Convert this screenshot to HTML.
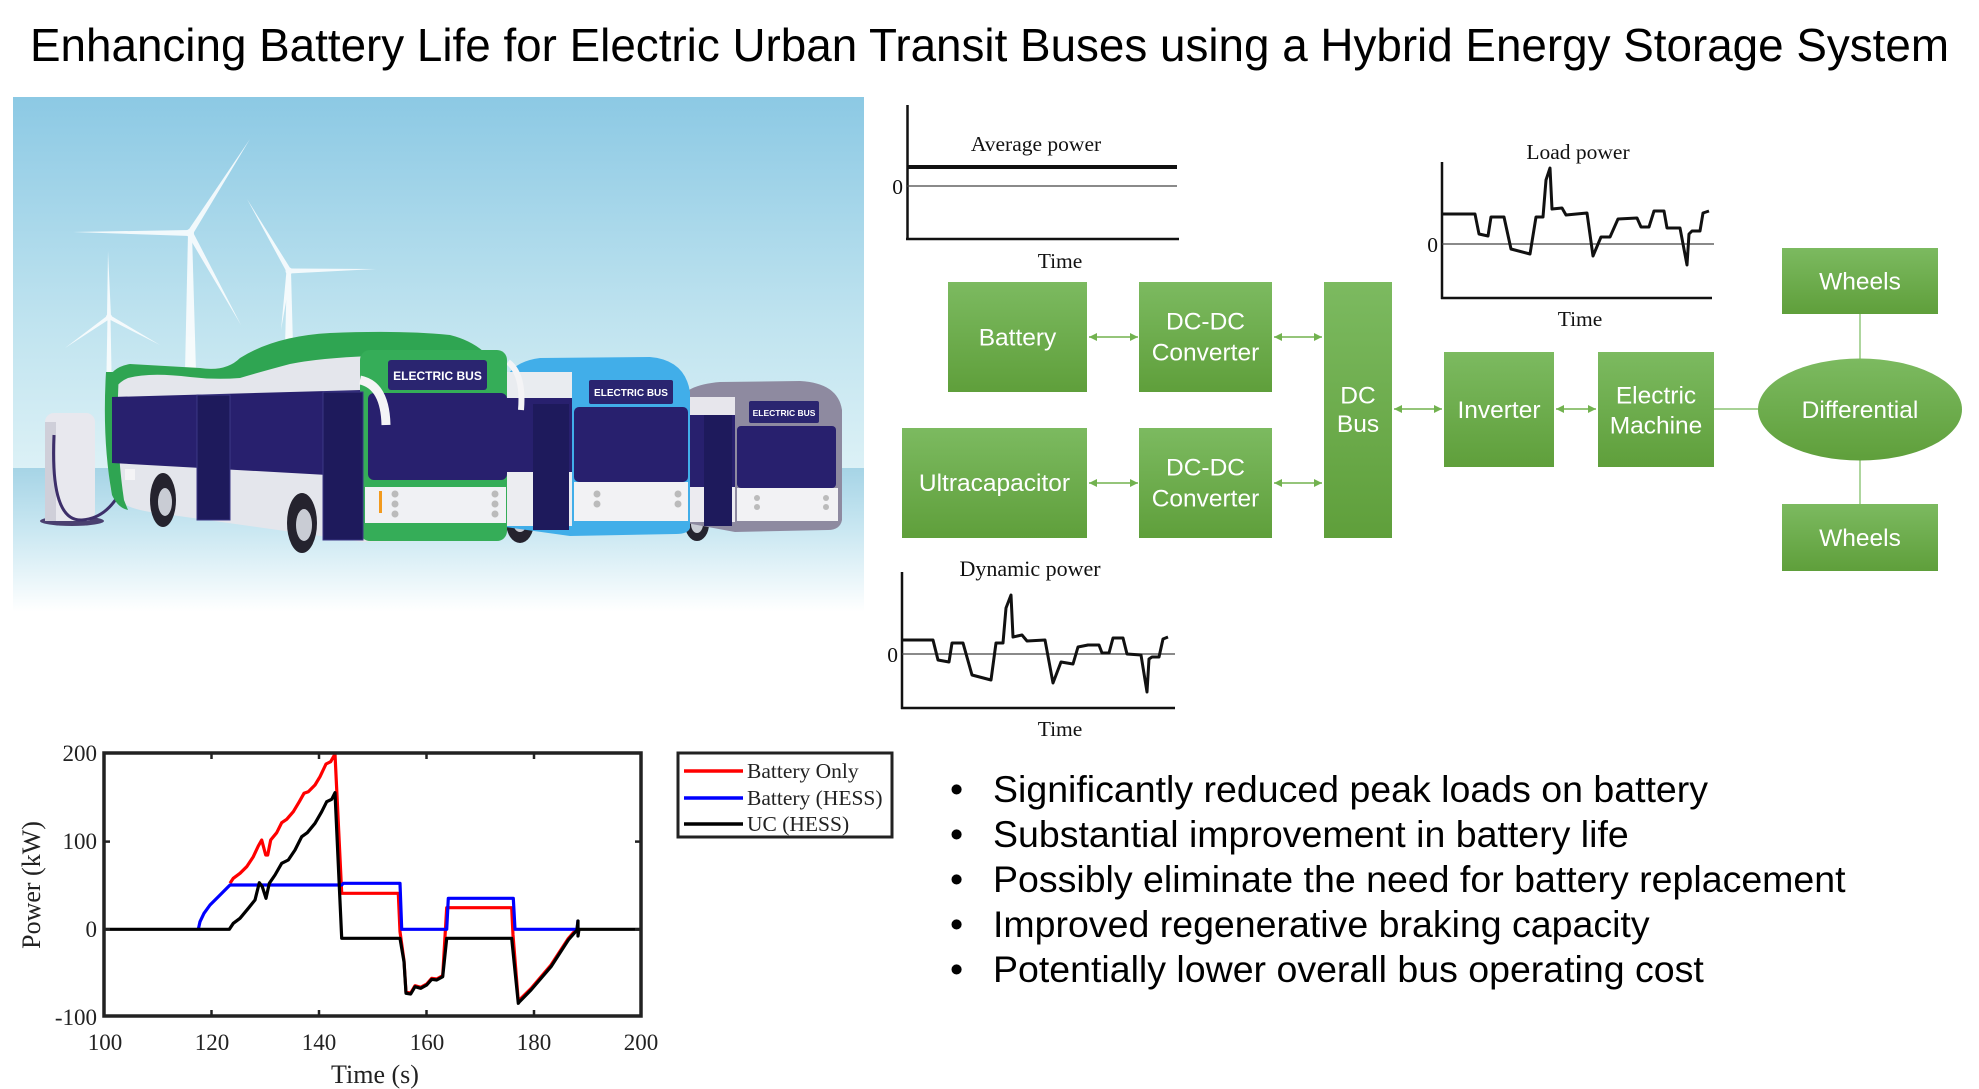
<!DOCTYPE html>
<html><head><meta charset="utf-8"><style>
html,body{margin:0;padding:0;background:#fff;}
svg{display:block;}
</style></head><body>
<svg width="1979" height="1089" viewBox="0 0 1979 1089" xmlns="http://www.w3.org/2000/svg">
<defs>
<linearGradient id="gb" x1="0" y1="0" x2="0" y2="1"><stop offset="0" stop-color="#7cba60"/><stop offset="1" stop-color="#5f9f3b"/></linearGradient>
<linearGradient id="sky" x1="0" y1="0" x2="0" y2="1"><stop offset="0" stop-color="#8cc9e4"/><stop offset="0.6" stop-color="#bfe3ef"/><stop offset="1" stop-color="#dcf1f6"/></linearGradient>
<linearGradient id="gnd" x1="0" y1="0" x2="0" y2="1"><stop offset="0" stop-color="#a6d4e6"/><stop offset="0.45" stop-color="#cbe8f2"/><stop offset="1" stop-color="#ffffff"/></linearGradient>
<marker id="ah" markerUnits="userSpaceOnUse" markerWidth="9" markerHeight="9" refX="8" refY="4.5" orient="auto-start-reverse"><path d="M0,0.5 L8,4.5 L0,8.5 z" fill="#72b24f"/></marker>
<clipPath id="pc"><rect x="104" y="753" width="537" height="263"/></clipPath>
</defs>

<!-- Title -->
<text x="30" y="61" font-family="Liberation Sans, Arial, sans-serif" font-size="46" fill="#000" textLength="1919" lengthAdjust="spacingAndGlyphs">Enhancing Battery Life for Electric Urban Transit Buses using a Hybrid Energy Storage System</text>

<!-- Illustration -->
<rect x="13" y="97" width="851" height="372" fill="url(#sky)"/>
<rect x="13" y="468" width="851" height="144" fill="url(#gnd)"/>
<g fill="#ffffff" opacity="0.85">
<polygon points="188,233 192,233 196,372 185,372"/>
<polygon points="192.5,234.6 250,139 187.5,231.4"/>
<polygon points="190,236 73,232 190,230"/>
<polygon points="187.4,234.5 241,325 192.6,231.5"/>
<circle cx="190" cy="233" r="4"/>
<polygon points="287,271 291,271 294,385 284,385"/>
<polygon points="291.2,269.7 247,199 286.8,272.3"/>
<polygon points="289,273.5 376,269 289,268.5"/>
<polygon points="286.5,270.7 281,330 291.5,271.3"/>
<circle cx="289" cy="271" r="3.5"/>
<polygon points="107.5,317 110.5,317 112,400 106,400"/>
<polygon points="111,317 108,251 107,317"/>
<polygon points="107.8,315.4 65,348 110.2,318.6"/>
<polygon points="108,318.8 160,345 110,315.2"/>
<circle cx="109" cy="317" r="3"/>
</g>

<!-- Charger -->
<ellipse cx="72" cy="521" rx="32" ry="5" fill="#4a4070"/>
<rect x="45" y="413" width="50" height="108" rx="9" fill="#e8e8ee"/>
<rect x="45" y="422" width="11" height="99" fill="#cfcfd9"/>
<path d="M54,435 Q50,522 82,520 Q112,518 127,477" stroke="#3d2f6a" stroke-width="3" fill="none"/>

<!-- Bus 3 (grey) -->
<g>
<ellipse cx="697" cy="524" rx="12" ry="17" fill="#25232e"/><ellipse cx="697" cy="524" rx="6" ry="9" fill="#c9ccd4"/>
<path d="M679,402 Q684,385 720,382 L800,381 Q838,383 842,410 L842,520 Q840,530 828,530 L735,532 L681,522 Z" fill="#8e8aa0"/>
<rect x="681" y="397" width="54" height="18" fill="#e7e6ec"/>
<rect x="681" y="415" width="54" height="72" fill="#28206e"/>
<rect x="681" y="487" width="54" height="35" fill="#ecebf0"/>
<rect x="704" y="415" width="28" height="111" fill="#1e1a5c"/>
<rect x="749" y="401" width="70" height="22" rx="2" fill="#2a2570"/>
<text x="784" y="416" font-family="Liberation Sans, sans-serif" font-size="8.5" font-weight="bold" fill="#fff" text-anchor="middle">ELECTRIC BUS</text>
<rect x="737" y="426" width="99" height="62" rx="4" fill="#28206e"/>
<rect x="737" y="488" width="101" height="33" fill="#f2f2f4"/>
<circle cx="757" cy="498" r="3" fill="#bbb"/><circle cx="757" cy="507" r="3" fill="#bbb"/><circle cx="826" cy="498" r="3" fill="#bbb"/><circle cx="826" cy="507" r="3" fill="#bbb"/>
</g>

<!-- Bus 2 (blue) -->
<g>
<ellipse cx="520" cy="522" rx="14" ry="21" fill="#25232e"/><ellipse cx="520" cy="522" rx="7" ry="10" fill="#c9ccd4"/>
<path d="M503,387 Q508,362 540,358 L650,357 Q685,360 690,392 L690,528 Q688,534 676,534 L570,536 L505,527 Z" fill="#41aee9"/>
<rect x="505" y="372" width="67" height="27" fill="#e9ecf0"/>
<rect x="505" y="398" width="67" height="74" fill="#28206e"/>
<rect x="505" y="472" width="67" height="54" fill="#ecedf1"/>
<rect x="533" y="404" width="36" height="126" fill="#1e1a5c"/>
<rect x="589" y="380" width="84" height="24" rx="2" fill="#2a2570"/>
<text x="631" y="396" font-family="Liberation Sans, sans-serif" font-size="10" font-weight="bold" fill="#fff" text-anchor="middle">ELECTRIC BUS</text>
<rect x="574" y="407" width="114" height="75" rx="5" fill="#28206e"/>
<rect x="574" y="482" width="114" height="39" fill="#f2f2f4"/>
<circle cx="597" cy="494" r="3.5" fill="#bbb"/><circle cx="597" cy="504" r="3.5" fill="#bbb"/><circle cx="678" cy="494" r="3.5" fill="#bbb"/><circle cx="678" cy="504" r="3.5" fill="#bbb"/>
<path d="M508,362 Q524,374 521,410" stroke="#f4f4f6" stroke-width="6" fill="none"/>
</g>

<!-- Bus 1 (green) -->
<g>
<path d="M107,388 Q107,368 130,364 L200,368 Q226,372 240,358 Q275,336 330,333 Q400,330 450,335 Q490,345 503,380 L507,528 Q505,540 492,540 L363,542 L150,512 Q112,506 110,485 Z" fill="#e4e6ec"/>
<path d="M107,388 Q107,368 130,364 L200,368 Q226,372 240,358 Q275,336 330,333 Q400,330 450,335 Q490,345 503,380 L503,395 Q490,372 470,362 Q420,356 370,356 Q320,358 290,364 Q260,372 240,378 Q215,380 190,377 Q150,372 128,378 Q114,384 112,398 Z" fill="#2fa552"/>
<path d="M106,372 Q102,440 112,495 Q118,508 128,510 L124,500 Q115,440 119,372 Z" fill="#2fa552"/>
<polygon points="112,397 363,390 363,477 112,463" fill="#28206e"/>
<rect x="197" y="395" width="33" height="125" fill="#1e1a5c" stroke="#3b3785" stroke-width="1"/>
<rect x="360" y="350" width="147" height="191" rx="10" fill="#35ad58"/>
<rect x="388" y="360" width="99" height="30" rx="3" fill="#2a2570"/>
<text x="437.5" y="380" font-family="Liberation Sans, sans-serif" font-size="12" font-weight="bold" fill="#fff" text-anchor="middle">ELECTRIC BUS</text>
<rect x="368" y="393" width="139" height="87" rx="6" fill="#28206e"/>
<rect x="365" y="487" width="141" height="36" fill="#f0f1f4"/>
<rect x="323" y="392" width="40" height="148" fill="#1e1a5c" stroke="#3b3785" stroke-width="1"/>
<circle cx="395" cy="494" r="3.5" fill="#bbb"/><circle cx="395" cy="504" r="3.5" fill="#bbb"/><circle cx="395" cy="514" r="3.5" fill="#bbb"/>
<circle cx="495" cy="494" r="3.5" fill="#bbb"/><circle cx="495" cy="504" r="3.5" fill="#bbb"/><circle cx="495" cy="514" r="3.5" fill="#bbb"/>
<rect x="379" y="491" width="3" height="22" fill="#f29a1d"/>
<path d="M360,380 Q385,385 386,425" stroke="#f4f4f6" stroke-width="9" fill="none"/>
<rect x="125" y="469" width="10" height="11" fill="#f4f4f6"/>
<ellipse cx="163" cy="500" rx="13" ry="27" fill="#25232e"/><ellipse cx="165" cy="502" rx="7" ry="14" fill="#c9ccd4"/>
<ellipse cx="302" cy="523" rx="15" ry="30" fill="#25232e"/><ellipse cx="304" cy="525" rx="8" ry="16" fill="#c9ccd4"/>
</g>

<!-- Average power chart -->
<g font-family="Liberation Serif, 'Times New Roman', serif" fill="#111">
<line x1="907.5" y1="105" x2="907.5" y2="240" stroke="#111" stroke-width="2.5"/>
<line x1="906" y1="239" x2="1179" y2="239" stroke="#111" stroke-width="2.5"/>
<line x1="907" y1="167" x2="1177" y2="167" stroke="#111" stroke-width="4"/>
<line x1="907" y1="186" x2="1177" y2="186" stroke="#444" stroke-width="1.2"/>
<text x="903" y="194" font-size="21.5" text-anchor="end">0</text>
<text x="1036" y="151" font-size="21.5" text-anchor="middle">Average power</text>
<text x="1060" y="268" font-size="21.5" text-anchor="middle">Time</text>
</g>

<!-- Load power chart -->
<g font-family="Liberation Serif, 'Times New Roman', serif" fill="#111">
<line x1="1442" y1="162" x2="1442" y2="299" stroke="#111" stroke-width="2.5"/>
<line x1="1441" y1="298" x2="1712" y2="298" stroke="#111" stroke-width="2.5"/>
<line x1="1442" y1="244" x2="1714" y2="244" stroke="#444" stroke-width="1.2"/>
<polyline points="1442,214 1475,214 1479,234 1488,236 1491,217 1504,217 1511,249 1530,254 1536,217 1543,217 1546,180 1550,168 1552,209 1562,208 1566,215 1587,213 1593,256 1601,237 1610,237 1618,219 1637,218 1641,227 1649,227 1654,211 1664,211 1667,228 1680,228 1687,265 1689,234 1692,231 1700,231 1703,213 1709,211" fill="none" stroke="#111" stroke-width="3" stroke-linejoin="round"/>
<text x="1438" y="252" font-size="21.5" text-anchor="end">0</text>
<text x="1578" y="159" font-size="21.5" text-anchor="middle">Load power</text>
<text x="1580" y="326" font-size="21.5" text-anchor="middle">Time</text>
</g>

<!-- Dynamic power chart -->
<g font-family="Liberation Serif, 'Times New Roman', serif" fill="#111">
<line x1="902" y1="572" x2="902" y2="709" stroke="#111" stroke-width="2.5"/>
<line x1="901" y1="708" x2="1175" y2="708" stroke="#111" stroke-width="2.5"/>
<line x1="902" y1="654" x2="1175" y2="654" stroke="#444" stroke-width="1.2"/>
<polyline points="902,640 933,640 938,660 949,662 952,643 963,643 972,675 991,680 996,643 1003,643 1006,608 1011,595 1013,637 1022,635 1027,641 1045,640 1053,683 1061,662 1073,664 1078,647 1088,645 1099,645 1102,653 1109,653 1113,638 1123,638 1127,654 1141,655 1147,692 1149,659 1152,657 1159,657 1163,639 1168,637" fill="none" stroke="#111" stroke-width="3" stroke-linejoin="round"/>
<text x="898" y="662" font-size="21.5" text-anchor="end">0</text>
<text x="1030" y="576" font-size="22" text-anchor="middle">Dynamic power</text>
<text x="1060" y="736" font-size="21.5" text-anchor="middle">Time</text>
</g>

<!-- Block diagram connectors -->
<g stroke="#72b24f" stroke-width="1.6" fill="none">
<line x1="1089" y1="337" x2="1138" y2="337" marker-start="url(#ah)" marker-end="url(#ah)"/>
<line x1="1274" y1="337" x2="1322" y2="337" marker-start="url(#ah)" marker-end="url(#ah)"/>
<line x1="1089" y1="483" x2="1138" y2="483" marker-start="url(#ah)" marker-end="url(#ah)"/>
<line x1="1274" y1="483" x2="1322" y2="483" marker-start="url(#ah)" marker-end="url(#ah)"/>
<line x1="1394" y1="409" x2="1442" y2="409" marker-start="url(#ah)" marker-end="url(#ah)"/>
<line x1="1556" y1="409" x2="1596" y2="409" marker-start="url(#ah)" marker-end="url(#ah)"/>
</g>
<g stroke="#8cc474" stroke-width="1.4">
<line x1="1714" y1="409" x2="1758" y2="409"/>
<line x1="1860" y1="314" x2="1860" y2="359"/>
<line x1="1860" y1="460" x2="1860" y2="504"/>
</g>

<!-- Block diagram nodes -->
<g fill="url(#gb)">
<rect x="948" y="282" width="139" height="110"/>
<rect x="1139" y="282" width="133" height="110"/>
<rect x="1324" y="282" width="68" height="256"/>
<rect x="902" y="428" width="185" height="110"/>
<rect x="1139" y="428" width="133" height="110"/>
<rect x="1444" y="352" width="110" height="115"/>
<rect x="1598" y="352" width="116" height="115"/>
<ellipse cx="1860" cy="409.5" rx="102" ry="51"/>
<rect x="1782" y="248" width="156" height="66"/>
<rect x="1782" y="504" width="156" height="67"/>
</g>
<g font-family="Liberation Sans, Arial, sans-serif" font-size="24.5" fill="#fff" text-anchor="middle">
<text x="1017.5" y="345.5">Battery</text>
<text x="1205.5" y="329.5">DC-DC</text>
<text x="1205.5" y="360.5">Converter</text>
<text x="994.5" y="491">Ultracapacitor</text>
<text x="1205.5" y="475.5">DC-DC</text>
<text x="1205.5" y="506.5">Converter</text>
<text x="1358" y="403.5">DC</text>
<text x="1358" y="432">Bus</text>
<text x="1499" y="418">Inverter</text>
<text x="1656" y="403.5">Electric</text>
<text x="1656" y="433.5">Machine</text>
<text x="1860" y="418">Differential</text>
<text x="1860" y="289.5">Wheels</text>
<text x="1860" y="546">Wheels</text>
</g>

<!-- Power chart -->
<g clip-path="url(#pc)" fill="none" stroke-width="3.2" stroke-linejoin="round">
<polyline stroke="#ff0000" points="230,883.3 233.3,878.3 240,873.3 246.7,866.7 253.3,856.7 258.3,846 261.7,840 265.7,855 267.7,855 270.7,840 276.7,832.7 281.7,822.7 286.7,819.3 293.3,811.7 299.3,801.7 304,793.3 308.3,791.7 315,785 320,776.7 326,764 330.7,761.7 335,754 341.7,893.3 398.3,893.3 400,931.7 404,960.7 406,992.3 410.7,993 415,985.7 420.7,987.3 426.7,984 431.7,978.3 436.7,979 442.7,975.7 446.7,907.7 511.7,907.7 513,935 518.3,1001 531,988.5 551,965 568.3,938.5 577,928.5"/>
<polyline stroke="#0000ff" points="198.3,929.3 200,921.7 204,913.3 210,905 218.3,896.7 230,885 341.7,885 343.3,883.3 400,883.3 401.7,929.3 446.7,929.3 448.3,898.3 513.3,898.3 515,929.3 577,929.3 578,920"/>
<polyline stroke="#000000" points="104,929.3 229.3,929.3 233.3,923.3 240,918.3 248.3,908.3 255,900 259.3,882.7 262.3,886.7 266,898.3 269.3,883.3 275,875 281.7,863.3 288.3,860 295,850 301.7,836.7 307.3,832.7 315,823.3 321.7,811.7 326.7,801.7 331.7,799.3 335,792.7 341.7,938.3 400,938.3 404,961.7 406,993.3 410.7,994 415,986.7 420.7,988.3 426.7,985 431.7,979.3 436.7,980 442.7,976.7 446.7,938.3 511.7,938.3 518.3,1003.3 519.5,1001.7 531,990 551,966.7 568.3,940 577,930 578,921 578,936 579,929.3 641,929.3"/>
</g>
<g stroke="#222" stroke-width="2.5">
<line x1="211.5" y1="753" x2="211.5" y2="759"/><line x1="319" y1="753" x2="319" y2="759"/><line x1="426.5" y1="753" x2="426.5" y2="759"/><line x1="534" y1="753" x2="534" y2="759"/>
<line x1="211.5" y1="1016" x2="211.5" y2="1010"/><line x1="319" y1="1016" x2="319" y2="1010"/><line x1="426.5" y1="1016" x2="426.5" y2="1010"/><line x1="534" y1="1016" x2="534" y2="1010"/>
<line x1="104" y1="841.6" x2="110" y2="841.6"/><line x1="104" y1="929.3" x2="110" y2="929.3"/>
<line x1="641" y1="841.6" x2="635" y2="841.6"/><line x1="641" y1="929.3" x2="635" y2="929.3"/>
</g>
<rect x="104" y="753" width="537" height="263" fill="none" stroke="#222" stroke-width="3.5"/>
<g font-family="Liberation Serif, 'Times New Roman', serif" font-size="23" fill="#222">
<text x="97" y="761" text-anchor="end">200</text>
<text x="97" y="849" text-anchor="end">100</text>
<text x="97" y="937" text-anchor="end">0</text>
<text x="97" y="1025" text-anchor="end">-100</text>
<text x="105" y="1050" text-anchor="middle">100</text>
<text x="212" y="1050" text-anchor="middle">120</text>
<text x="319" y="1050" text-anchor="middle">140</text>
<text x="427" y="1050" text-anchor="middle">160</text>
<text x="534" y="1050" text-anchor="middle">180</text>
<text x="641" y="1050" text-anchor="middle">200</text>
<text x="375" y="1083" font-size="26" text-anchor="middle">Time (s)</text>
<text transform="translate(40,885) rotate(-90)" font-size="26" text-anchor="middle">Power (kW)</text>
</g>
<rect x="678" y="753" width="214" height="84" fill="#fff" stroke="#222" stroke-width="3"/>
<line x1="684" y1="771" x2="743" y2="771" stroke="#ff0000" stroke-width="3.5"/>
<line x1="684" y1="798" x2="743" y2="798" stroke="#0000ff" stroke-width="3.5"/>
<line x1="684" y1="824" x2="743" y2="824" stroke="#000" stroke-width="3.5"/>
<g font-family="Liberation Serif, 'Times New Roman', serif" font-size="21.5" fill="#222">
<text x="747" y="778">Battery Only</text>
<text x="747" y="805">Battery (HESS)</text>
<text x="747" y="831">UC (HESS)</text>
</g>

<!-- Bullets -->
<g font-family="Liberation Sans, Arial, sans-serif" font-size="37.5" fill="#000">
<text x="950" y="802">•</text><text x="993" y="802">Significantly reduced peak loads on battery</text>
<text x="950" y="847">•</text><text x="993" y="847">Substantial improvement in battery life</text>
<text x="950" y="892">•</text><text x="993" y="892">Possibly eliminate the need for battery replacement</text>
<text x="950" y="937">•</text><text x="993" y="937">Improved regenerative braking capacity</text>
<text x="950" y="982">•</text><text x="993" y="982">Potentially lower overall bus operating cost</text>
</g>
</svg>
</body></html>
